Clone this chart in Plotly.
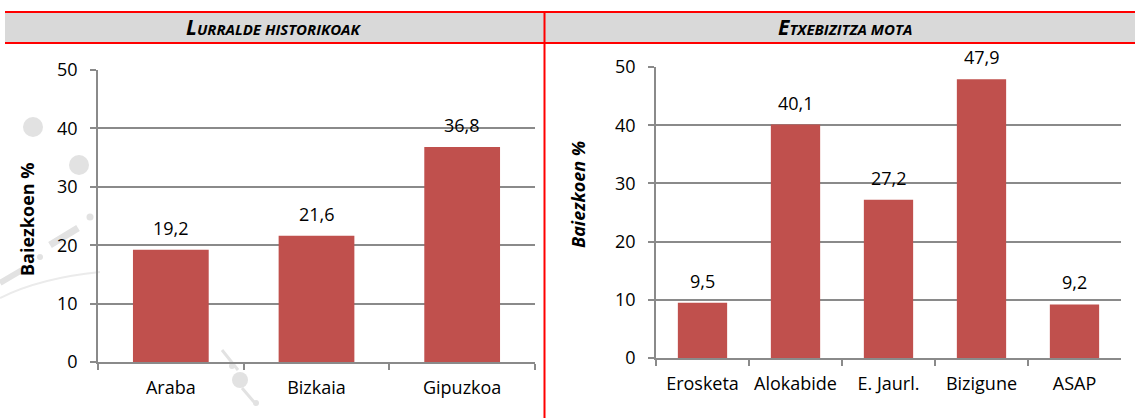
import plotly.graph_objects as go

# Survey results: share of "yes" answers (%)
regions = ["Araba", "Bizkaia", "Gipuzkoa"]
region_values = [19.2, 21.6, 36.8]

housing_types = ["Erosketa", "Alokabide", "E. Jaurl.", "Bizigune", "ASAP"]
housing_values = [9.5, 40.1, 27.2, 47.9, 9.2]

y_ticks = [0, 10, 20, 30, 40, 50]
y_title = "Baiezkoen %"
header_left = ("L", "URRALDE HISTORIKOAK")
header_right = ("E", "TXEBIZITZA MOTA")

W, H = 1135, 418
BAR = "#C0504D"
GRID = "#8A8A8A"
RED = "#FF0000"
FONT = "Open Sans"
INK = "#000000"


def px_x(x):
    return x / W


def px_y(y):
    return 1 - y / H


def comma(v):
    return f"{v:.1f}".replace(".", ",")


fig = go.Figure()

fig.add_trace(go.Bar(x=regions, y=region_values, marker_color=BAR,
                     width=0.52, xaxis="x", yaxis="y", hoverinfo="skip"))
fig.add_trace(go.Bar(x=housing_types, y=housing_values, marker_color=BAR,
                     width=0.53, xaxis="x2", yaxis="y2", hoverinfo="skip"))

axis_common = dict(
    showline=True, linecolor=GRID, linewidth=1.5,
    ticks="outside", tickcolor=GRID, tickwidth=1.5,
    tickfont=dict(family=FONT, size=18, color=INK),
    automargin=False,
)

xaxis_style = dict(axis_common, type="category", tickson="boundaries",
                   ticklen=6, showgrid=False, ticklabelstandoff=9)
yaxis_style = dict(axis_common, range=[0, 50], tickvals=y_ticks, ticklen=6,
                   showgrid=True, gridcolor=GRID, gridwidth=1.5,
                   zeroline=False, ticklabelstandoff=9)

fig.update_layout(
    template="none",
    width=W, height=H, autosize=False,
    margin=dict(l=0, r=0, t=0, b=0, pad=0),
    paper_bgcolor="white", plot_bgcolor="rgba(0,0,0,0)",
    showlegend=False, bargap=0.45,
    xaxis=dict(xaxis_style, domain=[px_x(98), px_x(535)], anchor="y"),
    yaxis=dict(yaxis_style, domain=[px_y(362), px_y(70)], anchor="x"),
    xaxis2=dict(xaxis_style, domain=[px_x(656), px_x(1121)], anchor="y2"),
    yaxis2=dict(yaxis_style, domain=[px_y(358), px_y(67)], anchor="x2"),
)

label_font = dict(family=FONT, size=18, color=INK)
annotations = []
for cat, v in zip(regions, region_values):
    annotations.append(dict(x=cat, y=v, xref="x", yref="y", text=comma(v),
                            showarrow=False, xanchor="center", yanchor="bottom",
                            yshift=8, font=label_font))
for cat, v in zip(housing_types, housing_values):
    annotations.append(dict(x=cat, y=v, xref="x2", yref="y2", text=comma(v),
                            showarrow=False, xanchor="center", yanchor="bottom",
                            yshift=8, font=label_font))

# Axis titles
annotations.append(dict(x=px_x(27), y=px_y(219), xref="paper", yref="paper",
                        text=f"<b>{y_title}</b>", textangle=-90, showarrow=False,
                        xanchor="center", yanchor="middle",
                        font=dict(family=FONT, size=18, color=INK)))
annotations.append(dict(x=px_x(578), y=px_y(195), xref="paper", yref="paper",
                        text=f"<b><i>{y_title}</i></b>", textangle=-90, showarrow=False,
                        xanchor="center", yanchor="middle",
                        font=dict(family=FONT, size=18, color=INK)))


def small_caps(parts):
    first, rest = parts
    return f"<b><i><span style='font-size:21px'>{first}</span>{rest}</i></b>"


annotations.append(dict(x=px_x(274), y=px_y(27.5), xref="paper", yref="paper",
                        text=small_caps(header_left), showarrow=False,
                        xanchor="center", yanchor="middle",
                        font=dict(family=FONT, size=15, color=INK)))
annotations.append(dict(x=px_x(845), y=px_y(27.5), xref="paper", yref="paper",
                        text=small_caps(header_right), showarrow=False,
                        xanchor="center", yanchor="middle",
                        font=dict(family=FONT, size=15, color=INK)))

fig.update_layout(annotations=annotations)

shapes = []
# Faint decorative watermark behind the left chart
wm = "#E2E2E2"
for cx, cy, r in [(33, 127, 10), (79, 165, 10), (90, 217, 3.5), (40, 257, 3),
                  (240, 380, 8), (232, 366, 3), (256, 403, 3)]:
    shapes.append(dict(type="circle", xref="paper", yref="paper", layer="below",
                       x0=px_x(cx - r), x1=px_x(cx + r),
                       y0=px_y(cy + r), y1=px_y(cy - r),
                       fillcolor=wm, line=dict(width=0)))
for x0, y0, x1, y1, w in [(50, 245, 78, 228, 7), (0, 283, 22, 270, 6),
                          (222, 350, 238, 370, 3), (242, 388, 254, 402, 3)]:
    shapes.append(dict(type="line", xref="paper", yref="paper", layer="below",
                       x0=px_x(x0), y0=px_y(y0), x1=px_x(x1), y1=px_y(y1),
                       line=dict(color=wm, width=w)))
shapes.append(dict(type="path", xref="paper", yref="paper", layer="below",
                   path=(f"M {px_x(0)},{px_y(298)} Q {px_x(40)},{px_y(278)} "
                         f"{px_x(100)},{px_y(272)}"),
                   line=dict(color="#EBEBEB", width=2)))

# Header band and red table rules
shapes.append(dict(type="rect", xref="paper", yref="paper", layer="below",
                   x0=px_x(5), x1=1, y0=px_y(43), y1=px_y(12),
                   fillcolor="#D9D9D9", line=dict(width=0)))
for y in (12, 43):
    shapes.append(dict(type="line", xref="paper", yref="paper",
                       x0=px_x(5), x1=1, y0=px_y(y), y1=px_y(y),
                       line=dict(color=RED, width=2)))
shapes.append(dict(type="line", xref="paper", yref="paper",
                   x0=px_x(544.5), x1=px_x(544.5), y0=0, y1=px_y(12),
                   line=dict(color=RED, width=2)))

fig.update_layout(shapes=shapes)

fig.write_html("out.html")
